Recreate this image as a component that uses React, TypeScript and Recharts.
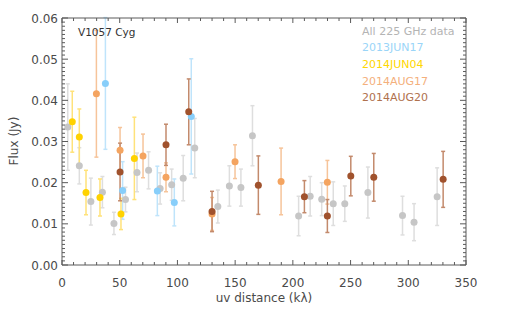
import { ScatterChart, Scatter, XAxis, YAxis, ErrorBar } from "recharts";

// binned 225 GHz visibilities: uv distance (kλ), flux (Jy), 1σ error
const all225 = [
  { uv: 5, flux: 0.0335, err: 0.0105 },
  { uv: 15, flux: 0.0241, err: 0.0044 },
  { uv: 25, flux: 0.0154, err: 0.0057 },
  { uv: 35, flux: 0.0177, err: 0.0038 },
  { uv: 45, flux: 0.0101, err: 0.0027 },
  { uv: 55, flux: 0.0159, err: 0.003 },
  { uv: 65, flux: 0.0225, err: 0.0047 },
  { uv: 75, flux: 0.023, err: 0.0045 },
  { uv: 85, flux: 0.0186, err: 0.0038 },
  { uv: 95, flux: 0.0195, err: 0.0038 },
  { uv: 105, flux: 0.0211, err: 0.0055 },
  { uv: 115, flux: 0.0284, err: 0.0072 },
  { uv: 135, flux: 0.0142, err: 0.004 },
  { uv: 145, flux: 0.0192, err: 0.0049 },
  { uv: 155, flux: 0.0188, err: 0.0045 },
  { uv: 165, flux: 0.0314, err: 0.0073 },
  { uv: 205, flux: 0.0119, err: 0.0048 },
  { uv: 215, flux: 0.0167, err: 0.0048 },
  { uv: 225, flux: 0.016, err: 0.004 },
  { uv: 235, flux: 0.0149, err: 0.0053 },
  { uv: 245, flux: 0.0149, err: 0.0043 },
  { uv: 265, flux: 0.0176, err: 0.0062 },
  { uv: 295, flux: 0.012, err: 0.0047 },
  { uv: 305, flux: 0.0104, err: 0.0045 },
  { uv: 325, flux: 0.0166, err: 0.007 },
];

const jun17_2013 = [
  { uv: 37.6, flux: 0.0441, err: 0.016 },
  { uv: 52.5, flux: 0.0181, err: 0.007 },
  { uv: 82.6, flux: 0.018, err: 0.006 },
  { uv: 97.3, flux: 0.0152, err: 0.0057 },
  { uv: 112, flux: 0.0361, err: 0.014 },
];

const jun04_2014 = [
  { uv: 8.9, flux: 0.0348, err: 0.0074 },
  { uv: 15, flux: 0.0311, err: 0.0068 },
  { uv: 20.8, flux: 0.0176, err: 0.0054 },
  { uv: 32.9, flux: 0.0164, err: 0.0045 },
  { uv: 51.1, flux: 0.0124, err: 0.0038 },
  { uv: 62.7, flux: 0.0259, err: 0.01 },
];

const aug17_2014 = [
  { uv: 29.8, flux: 0.0416, err: 0.0154 },
  { uv: 50.3, flux: 0.0279, err: 0.0055 },
  { uv: 70.2, flux: 0.0265, err: 0.0053 },
  { uv: 90.1, flux: 0.0213, err: 0.0035 },
  { uv: 130, flux: 0.0124, err: 0.004 },
  { uv: 149.9, flux: 0.0251, err: 0.0041 },
  { uv: 189.8, flux: 0.0203, err: 0.0081 },
  { uv: 229.9, flux: 0.0201, err: 0.0053 },
];

const aug20_2014 = [
  { uv: 50.3, flux: 0.0226, err: 0.007 },
  { uv: 90.1, flux: 0.0292, err: 0.005 },
  { uv: 109.8, flux: 0.0372, err: 0.008 },
  { uv: 130, flux: 0.013, err: 0.0049 },
  { uv: 170.1, flux: 0.0194, err: 0.0071 },
  { uv: 210, flux: 0.0166, err: 0.0039 },
  { uv: 229.9, flux: 0.0119, err: 0.004 },
  { uv: 250.2, flux: 0.0216, err: 0.0048 },
  { uv: 270.1, flux: 0.0213, err: 0.0058 },
  { uv: 330.2, flux: 0.0208, err: 0.0068 },
];

const xMajor = [0, 50, 100, 150, 200, 250, 300, 350];
const yMajor = [0, 0.01, 0.02, 0.03, 0.04, 0.05, 0.06];

const series = [
  { name: "All 225 GHz data", data: all225, dot: "#c6c6c6", bar: "#dedede", text: "#b4b4b4" },
  { name: "2013JUN17", data: jun17_2013, dot: "#87cefa", bar: "#bfe4fb", text: "#9ad5f8" },
  { name: "2014JUN04", data: jun04_2014, dot: "#ffd200", bar: "#ffe27a", text: "#ffd700" },
  { name: "2014AUG17", data: aug17_2014, dot: "#f4a460", bar: "#f6c49a", text: "#f4b07c" },
  { name: "2014AUG20", data: aug20_2014, dot: "#a0522d", bar: "#c38a6c", text: "#b0714e" },
];

// minor tick positions (10 kλ and 0.001 Jy steps)
const xTicks: number[] = [];
for (let i = 0; i <= 35; i++) xTicks.push(i * 10);
const yTicks: number[] = [];
for (let i = 0; i <= 60; i++) yTicks.push(i / 1000);

const AXIS = "#5a5a5a";
const LABEL = "#4a4a4a";
const FONT = "'DejaVu Sans', sans-serif";

const isMajorX = (v: number) => xMajor.includes(v);
const isMajorY = (v: number) => yMajor.some((m) => Math.abs(m - v) < 1e-9);

function BottomTick({ x, y, payload }: any) {
  const major = isMajorX(payload.value);
  return (
    <g>
      <line x1={x} x2={x} y1={y} y2={y - (major ? 5 : 3)} stroke={AXIS} />
      {major && (
        <text x={x} y={y + 22} textAnchor="middle" fontSize={12} fill={LABEL} fontFamily={FONT}>
          {payload.value}
        </text>
      )}
    </g>
  );
}

function TopTick({ x, y, payload }: any) {
  const major = isMajorX(payload.value);
  return <line x1={x} x2={x} y1={y} y2={y + (major ? 5 : 3)} stroke={AXIS} />;
}

function LeftTick({ x, y, payload }: any) {
  const major = isMajorY(payload.value);
  return (
    <g>
      <line x1={x} x2={x + (major ? 6 : 3)} y1={y} y2={y} stroke={AXIS} />
      {major && (
        <text x={x - 4} y={y + 4.5} textAnchor="end" fontSize={12} fill={LABEL} fontFamily={FONT}>
          {payload.value.toFixed(2)}
        </text>
      )}
    </g>
  );
}

function RightTick({ x, y, payload }: any) {
  const major = isMajorY(payload.value);
  return <line x1={x} x2={x - (major ? 6 : 3)} y1={y} y2={y} stroke={AXIS} />;
}

export default function App() {
  return (
    <div style={{ position: "relative", width: 518, height: 335, background: "#fff" }}>
      <style>{"body{margin:0}"}</style>
      <ScatterChart width={518} height={335} margin={{ top: 17, right: 50, bottom: 30, left: 0 }}>
        <XAxis
          xAxisId="x"
          dataKey="uv"
          type="number"
          domain={[0, 350]}
          allowDataOverflow
          ticks={xTicks}
          interval={0}
          tickSize={0}
          tickMargin={0}
          tickLine={false}
          tick={BottomTick}
          axisLine={{ stroke: AXIS }}
          height={40}
          label={{ value: "uv distance (kλ)", position: "insideBottom", offset: 3, fill: LABEL, fontSize: 12, fontFamily: FONT }}
        />
        <XAxis
          xAxisId="top"
          orientation="top"
          dataKey="uv"
          type="number"
          domain={[0, 350]}
          allowDataOverflow
          ticks={xTicks}
          interval={0}
          tickSize={0}
          tickMargin={0}
          tickLine={false}
          tick={TopTick}
          axisLine={{ stroke: AXIS }}
          height={1}
        />
        <YAxis
          yAxisId="y"
          dataKey="flux"
          type="number"
          domain={[0, 0.06]}
          allowDataOverflow
          ticks={yTicks}
          interval={0}
          tickSize={0}
          tickMargin={0}
          tickLine={false}
          tick={LeftTick}
          axisLine={{ stroke: AXIS }}
          width={62}
        />
        <YAxis
          yAxisId="right"
          orientation="right"
          dataKey="flux"
          type="number"
          domain={[0, 0.06]}
          allowDataOverflow
          ticks={yTicks}
          interval={0}
          tickSize={0}
          tickMargin={0}
          tickLine={false}
          tick={RightTick}
          axisLine={{ stroke: AXIS }}
          width={2}
        />
        {series.map((s) => (
          <Scatter
            key={s.name}
            name={s.name}
            data={s.data}
            dataKey="flux"
            xAxisId="x"
            yAxisId="y"
            isAnimationActive={false}
            shape={(p: any) => <circle cx={p.cx} cy={p.cy} r={3.5} fill={s.dot} />}
          >
            <ErrorBar dataKey="err" direction="y" width={2} stroke={s.bar} strokeWidth={1.5} isAnimationActive={false} />
          </Scatter>
        ))}
      </ScatterChart>
      <svg
        width={518}
        height={335}
        style={{ position: "absolute", left: 0, top: 0, pointerEvents: "none" }}
        fontFamily={FONT}
      >
        <text x={78} y={36} fontSize={10.5} fill="#333">V1057 Cyg</text>
        {series.map((s, i) => (
          <text key={s.name} x={362} y={34.5 + i * 16.7} fontSize={11} fill={s.text}>
            {s.name}
          </text>
        ))}
        <text x={18} y={141} fontSize={12} fill={LABEL} textAnchor="middle" transform="rotate(-90 18 141)">
          Flux (Jy)
        </text>
      </svg>
    </div>
  );
}
